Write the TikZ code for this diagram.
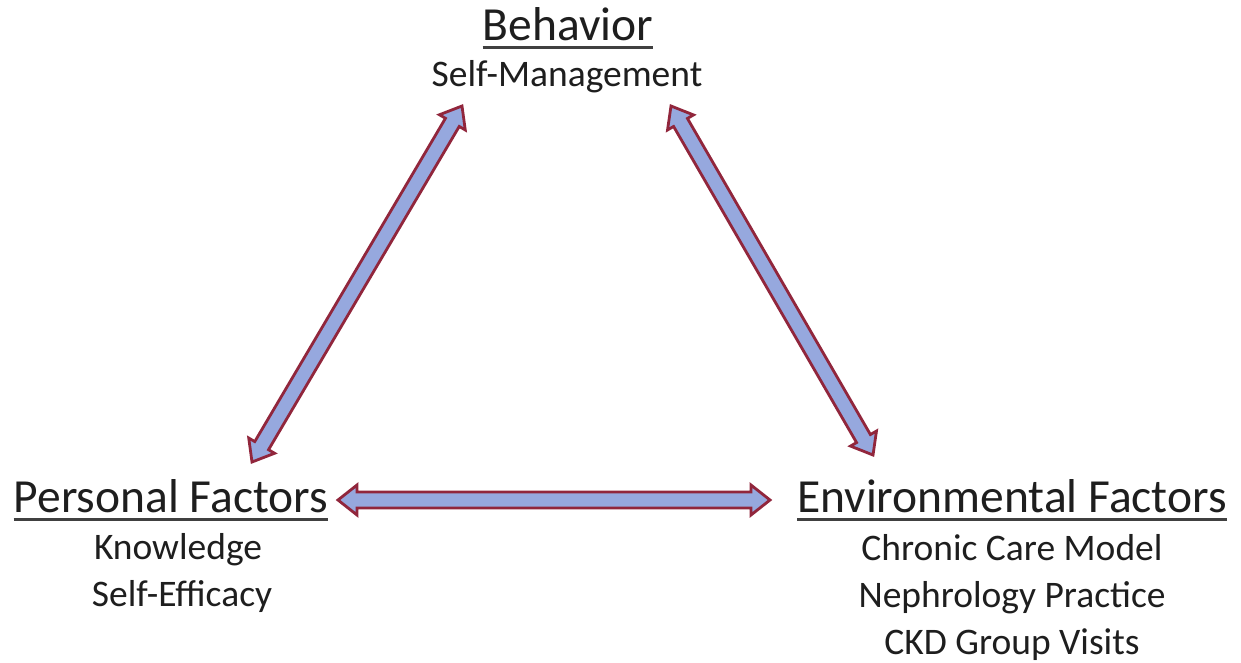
\documentclass[tikz,border=0pt]{standalone}
\usepackage{fontspec}
\setmainfont{Carlito}
\usetikzlibrary{calc}
\definecolor{arrfill}{RGB}{150,168,222}
\definecolor{arrline}{RGB}{145,38,60}
\definecolor{txt}{RGB}{30,30,30}
\newcommand{\fatarrow}[2]{%
  \coordinate (h1) at ($(#1)!19pt!(#2)$);
  \coordinate (h2) at ($(#2)!19pt!(#1)$);
  \draw[fatarrowstyle] (#1) -- ($(h1)!15pt!90:(#2)$) -- ($(h1)!8pt!90:(#2)$)
    -- ($(h2)!8pt!-90:(#1)$) -- ($(h2)!15pt!-90:(#1)$) -- (#2)
    -- ($(h2)!15pt!90:(#1)$) -- ($(h2)!8pt!90:(#1)$)
    -- ($(h1)!8pt!-90:(#2)$) -- ($(h1)!15pt!-90:(#2)$) -- cycle;}
\begin{document}
\begin{tikzpicture}[x=1pt,y=-1pt,
  fatarrowstyle/.style={fill=arrfill,draw=arrline,line width=2.8pt,line join=miter},
  head/.style={inner sep=0pt,anchor=base,text=txt,font=\fontsize{47.5}{56}\selectfont},
  sub/.style={inner sep=0pt,anchor=base,text=txt,font=\fontsize{37.5}{47}\selectfont},
  uline/.style={draw=txt!85,line width=3pt}]
\useasboundingbox[fill=white] (0,0) rectangle (1241,662);
% texts
\node[head] (beh) at (568,40) {Behavior};
\node[sub] (sm) at (567,86) {Self-Management};
\node[head] (pf) at (171,512) {Personal Factors};
\node[sub] (kn) at (178,559) {Knowledge};
\node[sub] (se) at (182,606) {Self-Efficacy};
\node[head] (ef) at (1012,512) {Environmental Factors};
\node[sub] (ccm) at (1012,560) {Chronic Care Model};
\node[sub] (np) at (1012,607) {Nephrology Practice};
\node[sub] (ckd) at (1012,654) {CKD Group Visits};
% underlines
\foreach \n in {beh,pf,ef}
  \draw[uline] ([yshift=-7pt]\n.base west) -- ([yshift=-7pt]\n.base east);
% arrow ends
\coordinate (lt) at (462,106);
\coordinate (lb) at (252,462);
\coordinate (rt) at (671,106);
\coordinate (rb) at (873,455);
\coordinate (hl) at (338,500);
\coordinate (hr) at (770,500);
\fatarrow{lb}{lt}
\fatarrow{rt}{rb}
\fatarrow{hl}{hr}
\end{tikzpicture}
\end{document}
